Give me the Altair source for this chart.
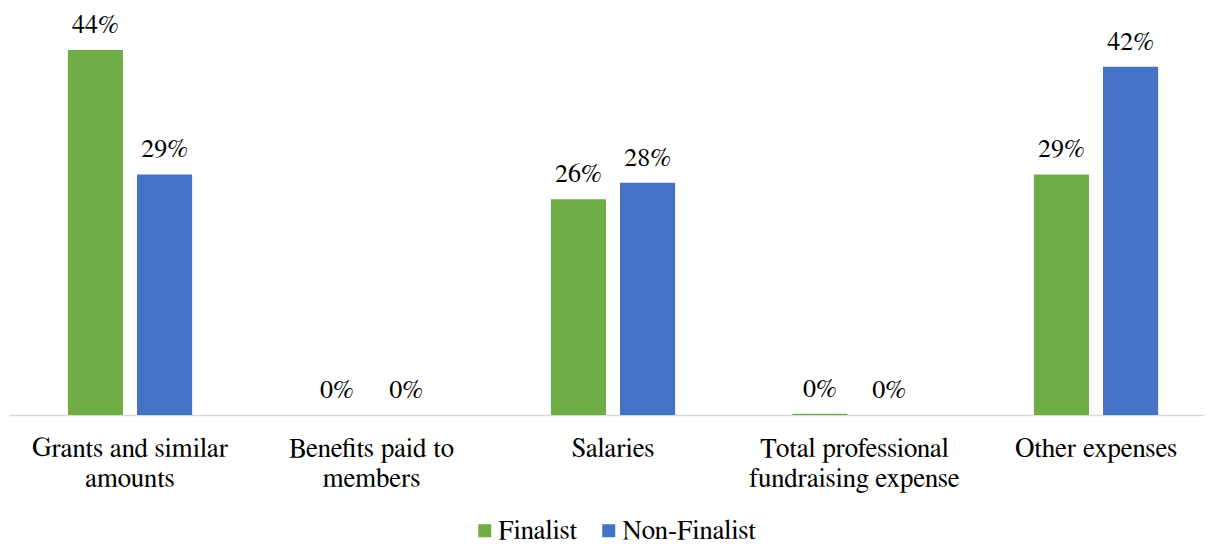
import altair as alt
import pandas as pd

categories = [
    "Grants and similar amounts",
    "Benefits paid to members",
    "Salaries",
    "Total professional fundraising expense",
    "Other expenses",
]
label_lines = [
    ["Grants and similar", "amounts"],
    ["Benefits paid to", "members"],
    ["Salaries"],
    ["Total professional", "fundraising expense"],
    ["Other expenses"],
]
series = ["Finalist", "Non-Finalist"]
finalist = [0.44, 0.0, 0.26, 0.0015, 0.29]
non_finalist = [0.29, 0.0, 0.28, 0.0, 0.42]
colors = ["#70AD47", "#4472C4"]

rows = []
for i, c in enumerate(categories):
    rows.append({"category": c, "series": series[0], "value": finalist[i]})
    rows.append({"category": c, "series": series[1], "value": non_finalist[i]})
df = pd.DataFrame(rows)

expr = "''"
for c, lines in zip(categories, label_lines):
    arr = "[" + ",".join("'" + l + "'" for l in lines) + "]"
    expr = f"datum.value == '{c}' ? {arr} : ({expr})"

FONT = "FreeSerif"

x = alt.X(
    "category:N",
    sort=categories,
    scale=alt.Scale(range=[0, 1207.5], paddingInner=0, paddingOuter=0),
    axis=alt.Axis(
        title=None,
        ticks=False,
        grid=False,
        domainColor="#d9d9d9",
        domainWidth=1.5,
        labelAngle=0,
        labelFont=FONT,
        labelFontSize=27,
        labelColor="#000000",
        labelPadding=20,
        labelLineHeight=30,
        labelExpr=expr,
        labelLimit=400,
    ),
)
xo = alt.XOffset(
    "series:N",
    sort=series,
    scale=alt.Scale(paddingInner=0.203, paddingOuter=0.848),
)
y = alt.Y(
    "value:Q",
    scale=alt.Scale(domain=[0, 0.4907], nice=False, zero=True),
    axis=None,
)

bars = alt.Chart(df).mark_bar().encode(
    x=x,
    xOffset=xo,
    y=y,
    color=alt.Color(
        "series:N",
        sort=series,
        scale=alt.Scale(domain=series, range=colors),
        legend=alt.Legend(
            title=None,
            orient="none",
            legendX=462,
            legendY=509,
            direction="horizontal",
            symbolType="square",
            symbolSize=169,
            symbolStrokeWidth=0,
            labelFont=FONT,
            labelFontSize=27,
            labelColor="#000000",
            labelOffset=0,
            columnPadding=18,
            padding=0,
        ),
    ),
)

text = alt.Chart(df).mark_text(
    font=FONT, fontSize=26, color="#000000", baseline="alphabetic", dy=-17
).encode(
    x=x,
    xOffset=xo,
    y=y,
    text=alt.Text("value:Q", format=".0%"),
)

chart = (
    alt.layer(bars, text)
    .properties(
        width=1194.75,
        height=407,
        padding={"left": 1.25, "top": 0, "right": 0, "bottom": 128},
        autosize=alt.AutoSizeParams(type="none"),
    )
    .configure_view(stroke=None)
)

chart.save("out.html", embed_options={"renderer": "svg", "actions": False})
